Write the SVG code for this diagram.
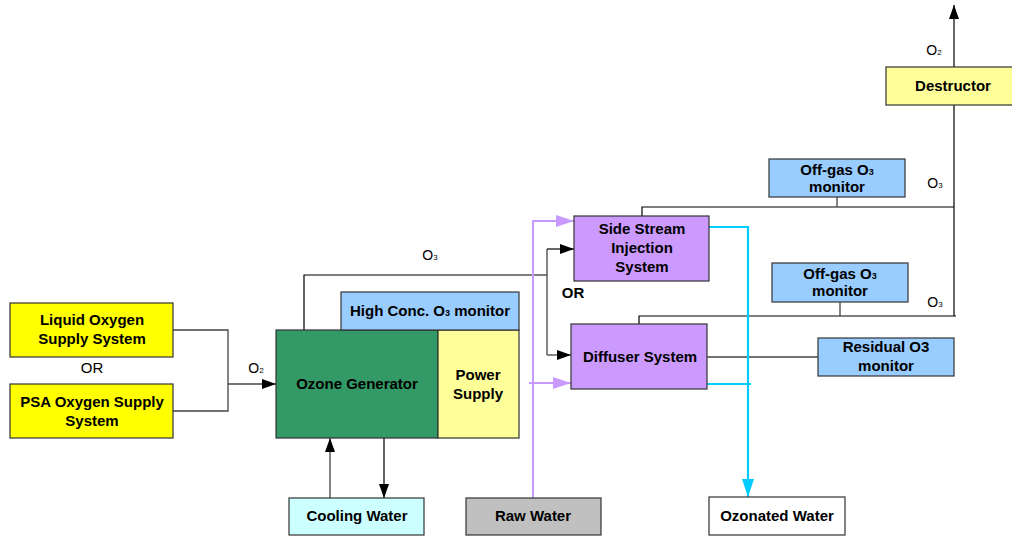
<svg xmlns="http://www.w3.org/2000/svg" width="1012" height="538" viewBox="0 0 1012 538">
<defs>
<style>
.box{stroke:#333;stroke-width:1.2}
.t{font-family:"Liberation Sans",Arial,sans-serif;font-size:15px;font-weight:bold;fill:#000;text-anchor:middle}
.l{font-family:"Liberation Sans",Arial,sans-serif;font-size:14px;fill:#000;text-anchor:middle}
.c{fill:none;stroke:#444;stroke-width:1.3}
.k{fill:none;stroke:#000;stroke-width:1.2}
.p{fill:none;stroke:#C899FF;stroke-width:2}
.cy{fill:none;stroke:#00CCFF;stroke-width:2.2}
</style>
<marker id="ab" markerWidth="14" markerHeight="10" refX="14" refY="5" orient="auto" markerUnits="userSpaceOnUse"><path d="M0,0 L14,5 L0,10 Z" fill="#000"/></marker>
<marker id="ap" markerWidth="18" markerHeight="12" refX="18" refY="6" orient="auto" markerUnits="userSpaceOnUse"><path d="M0,0 L18,6 L0,12 Z" fill="#C899FF"/></marker>
<marker id="ac" markerWidth="18" markerHeight="12" refX="18" refY="6" orient="auto" markerUnits="userSpaceOnUse"><path d="M0,0 L18,6 L0,12 Z" fill="#00CCFF"/></marker>
</defs>
<rect width="1012" height="538" fill="#fff"/>
<g id="connectors">
<path class="c" d="M173,330 H228 V411 H173"/>
<path class="c" d="M228,384 H276" marker-end="url(#ab)"/>
<path class="k" d="M304,330 V275 H547"/>
<path class="c" d="M547,249 V355"/>
<path class="k" d="M547,249 H574" marker-end="url(#ab)"/>
<path class="c" d="M547,355 H571" marker-end="url(#ab)"/>
<path class="c" d="M330,498 V438" marker-end="url(#ab)"/>
<path class="k" d="M384,438 V498" marker-end="url(#ab)"/>
<path class="k" d="M642,216 V207 H954"/>
<path class="c" d="M837,197 V207"/>
<path class="k" d="M639,324 V316 H956"/>
<path class="c" d="M840,302 V316"/>
<path class="k" d="M954,105 V316"/>
<path class="k" d="M954,67 V5" marker-end="url(#ab)"/>
<path class="c" d="M707,357 H818"/>
<path class="p" d="M533,498 V221 H574" marker-end="url(#ap)"/>
<path class="p" d="M529,383 H571" marker-end="url(#ap)"/>
<path class="cy" d="M709,227 H748 V497" marker-end="url(#ac)"/>
<path class="cy" d="M707,384 H751"/>
</g>
<g id="lox"><rect class="box" x="10" y="303" width="163" height="54" fill="#FFFF00"/><text class="t" x="92" y="325">Liquid Oxygen</text><text class="t" x="92" y="344">Supply System</text></g>
<g id="or1"><text class="l" x="92" y="373" style="font-size:15px">OR</text></g>
<g id="psa"><rect class="box" x="10" y="384" width="163" height="54" fill="#FFFF00"/><text class="t" x="92" y="407">PSA Oxygen Supply</text><text class="t" x="92" y="426">System</text></g>
<g id="o2a"><text class="l" x="256" y="373">O<tspan font-size="8">2</tspan></text></g>
<g id="ozonegen"><rect class="box" x="276" y="330" width="162" height="108" fill="#339966"/><text class="t" x="357" y="389">Ozone Generator</text></g>
<g id="power"><rect class="box" x="438" y="330" width="81" height="108" fill="#FFFF99"/><text class="t" x="478" y="380">Power</text><text class="t" x="478" y="399">Supply</text></g>
<g id="highconc"><rect class="box" x="341" y="292" width="178" height="38" fill="#99CCFF"/><text class="t" x="430" y="316">High Conc. O<tspan font-size="9">3</tspan> monitor</text></g>
<g id="o3a"><text class="l" x="430" y="260">O<tspan font-size="8">3</tspan></text></g>
<g id="sidestream"><rect class="box" x="574" y="216" width="135" height="65" fill="#CC99FF"/><text class="t" x="642" y="234">Side Stream</text><text class="t" x="642" y="253">Injection</text><text class="t" x="642" y="272">System</text></g>
<g id="or2"><text class="t" x="573" y="298">OR</text></g>
<g id="diffuser"><rect class="box" x="571" y="324" width="136" height="65" fill="#CC99FF"/><text class="t" x="640" y="362">Diffuser System</text></g>
<g id="offgas1"><rect class="box" x="769" y="159" width="136" height="38" fill="#99CCFF"/><text class="t" x="837" y="175">Off-gas O<tspan font-size="9">3</tspan></text><text class="t" x="837" y="192">monitor</text></g>
<g id="offgas2"><rect class="box" x="772" y="263" width="136" height="39" fill="#99CCFF"/><text class="t" x="840" y="279">Off-gas O<tspan font-size="9">3</tspan></text><text class="t" x="840" y="296">monitor</text></g>
<g id="o3b"><text class="l" x="935" y="188">O<tspan font-size="8">3</tspan></text></g>
<g id="o3c"><text class="l" x="935" y="307">O<tspan font-size="8">3</tspan></text></g>
<g id="residual"><rect class="box" x="818" y="338" width="136" height="38" fill="#99CCFF"/><text class="t" x="886" y="352">Residual O3</text><text class="t" x="886" y="371">monitor</text></g>
<g id="destructor"><rect class="box" x="886" y="67" width="135" height="38" fill="#FFFF99"/><text class="t" x="953" y="91">Destructor</text></g>
<g id="o2b"><text class="l" x="934" y="55">O<tspan font-size="8">2</tspan></text></g>
<g id="cooling"><rect class="box" x="289" y="498" width="135" height="37" fill="#CCFFFF"/><text class="t" x="357" y="521">Cooling Water</text></g>
<g id="raw"><rect class="box" x="466" y="498" width="135" height="37" fill="#C0C0C0"/><text class="t" x="533" y="521">Raw Water</text></g>
<g id="ozonated"><rect class="box" x="709" y="497" width="136" height="38" fill="#FFFFFF"/><text class="t" x="777" y="521">Ozonated Water</text></g>
</svg>
